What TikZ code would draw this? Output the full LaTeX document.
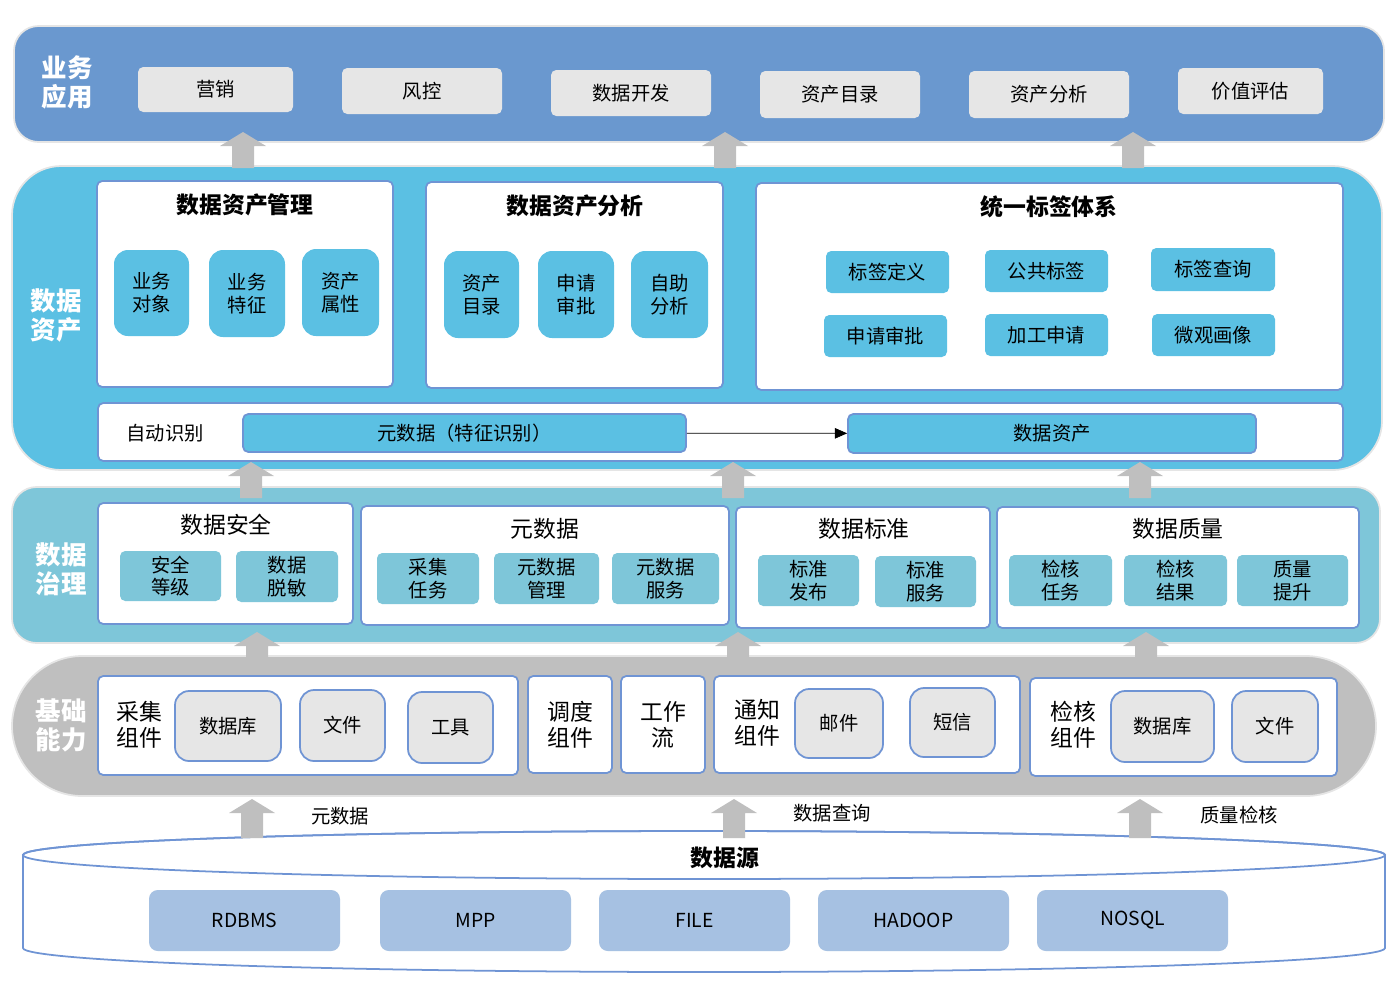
\documentclass[tikz,border=0pt]{standalone}
\usepackage{fontspec}
\setmainfont{Noto Sans CJK SC}
\usetikzlibrary{arrows.meta}
\definecolor{appblue}{HTML}{6A98CF}
\definecolor{assetblue}{HTML}{5BC0E3}
\definecolor{govteal}{HTML}{7EC6D9}
\definecolor{basegrey}{HTML}{BFBFBF}
\definecolor{itemgrey}{HTML}{E6E6E6}
\definecolor{edgeblue}{HTML}{6F94D4}
\definecolor{srcblue}{HTML}{A6C1E2}
\tikzstyle{layer}=[inner sep=0pt, draw=black!10, line width=1pt, rounded corners=14pt]
\tikzstyle{layertitle}=[text=white, font=\bfseries\fontsize{14.5}{16.5}\selectfont, align=center]
\tikzstyle{panel}=[inner sep=0pt, fill=white, draw=edgeblue, line width=1pt, rounded corners=3pt]
\tikzstyle{item}=[inner sep=0pt, rounded corners=3pt, font=\fontsize{11}{13}\selectfont, align=center]
\tikzstyle{gitem}=[item, fill=itemgrey, draw=edgeblue, line width=1pt, rounded corners=8pt]
\tikzstyle{bigtitle}=[font=\bfseries\fontsize{13}{15}\selectfont]
\tikzstyle{midtitle}=[font=\fontsize{13}{15}\selectfont, align=center]
\tikzstyle{uparrow}=[fill=basegrey, draw=none]
% box from corner to corner: [style]{name}{x1}{y1}{x2}{y2}{text}
\newcommand{\bx}[7][]{\node[#1, minimum width={(#5-#3)*0.02cm}, minimum height={(#6-#4)*0.02cm}]
  (#2) at ({(#3+#5)/2},{(#4+#6)/2}) {#7};}
\newcommand{\uparr}[3]{% x, bottom y, top y
  \fill[uparrow] (#1-11,#2) -- (#1-11,#3+14) -- (#1-23,#3+14) -- (#1,#3)
    -- (#1+23,#3+14) -- (#1+11,#3+14) -- (#1+11,#2) -- cycle;}
\begin{document}
\begin{tikzpicture}[x=0.02cm, y=-0.02cm]
    \useasboundingbox (0,0) rectangle (1398,988);

    % business layer
    \bx[layer, fill=appblue]{app}{14}{26}{1384}{142}{}
    \node[layertitle] (apptitle) at (67,82) {业务\\应用};
    \bx[item, fill=itemgrey]{yx}{138}{67}{293}{112}{营销}
    \bx[item, fill=itemgrey]{fk}{342}{68}{502}{114}{风控}
    \bx[item, fill=itemgrey]{sjkf}{551}{70}{711}{116}{数据开发}
    \bx[item, fill=itemgrey]{zcml}{760}{71}{920}{118}{资产目录}
    \bx[item, fill=itemgrey]{zcfx}{969}{71}{1129}{118}{资产分析}
    \bx[item, fill=itemgrey]{jzpg}{1178}{68}{1323}{114}{价值评估}

    % data asset layer
    \bx[layer, fill=assetblue, rounded corners=28pt]{asset}{12}{166}{1382}{470}{}
    \node[layertitle] (assettitle) at (56,315) {数据\\资产};
    \bx[panel]{mgmt}{97}{181}{393}{387}{}
    \node[bigtitle] (mgmttitle) at (245,205) {数据资产管理};
    \bx[item, fill=assetblue, rounded corners=8pt]{ywdx}{114}{250}{189}{336}{业务\\对象}
    \bx[item, fill=assetblue, rounded corners=8pt]{ywtz}{209}{250}{285}{337}{业务\\特征}
    \bx[item, fill=assetblue, rounded corners=8pt]{zcsx}{302}{249}{379}{336}{资产\\属性}
    \bx[panel]{anly}{426}{182}{723}{388}{}
    \node[bigtitle] (anlytitle) at (575,206) {数据资产分析};
    \bx[item, fill=assetblue, rounded corners=8pt]{zcml2}{444}{251}{519}{338}{资产\\目录}
    \bx[item, fill=assetblue, rounded corners=8pt]{sqsp}{538}{251}{614}{338}{申请\\审批}
    \bx[item, fill=assetblue, rounded corners=8pt]{zzfx}{631}{251}{708}{338}{自助\\分析}
    \bx[panel]{tag}{756}{183}{1343}{390}{}
    \node[bigtitle] (tagtitle) at (1049,207) {统一标签体系};
    \bx[item, fill=assetblue]{bqdy}{826}{251}{949}{293}{标签定义}
    \bx[item, fill=assetblue]{ggbq}{985}{250}{1108}{292}{公共标签}
    \bx[item, fill=assetblue]{bqcx}{1151}{248}{1275}{291}{标签查询}
    \bx[item, fill=assetblue]{sqsp2}{824}{315}{947}{357}{申请审批}
    \bx[item, fill=assetblue]{jgsq}{985}{314}{1108}{356}{加工申请}
    \bx[item, fill=assetblue]{wghx}{1152}{314}{1275}{356}{微观画像}
    \bx[panel]{auto}{98}{403}{1343}{461}{}
    \node[item] (autotitle) at (165,433) {自动识别};
    \bx[item, fill=assetblue, draw=edgeblue, line width=1pt]{meta}{243}{414}{686}{452}{元数据（特征识别）}
    \bx[item, fill=assetblue, draw=edgeblue, line width=1pt]{sjzc}{848}{414}{1256}{453}{数据资产}
    \draw[-{Triangle[length=7pt,width=6pt]}, thin] (meta) -- (sjzc);

    % governance layer
    \bx[layer, fill=govteal]{gov}{12}{487}{1380}{643}{}
    \node[layertitle] (govtitle) at (61,569) {数据\\治理};
    \bx[panel]{sec}{98}{503}{353}{624}{}
    \node[midtitle] (sectitle) at (226,525) {数据安全};
    \bx[item, fill=govteal]{aqdj}{120}{551}{221}{601}{安全\\等级}
    \bx[item, fill=govteal]{sjtm}{236}{551}{338}{602}{数据\\脱敏}
    \bx[panel]{md}{361}{506}{729}{625}{}
    \node[midtitle] (mdtitle) at (545,529) {元数据};
    \bx[item, fill=govteal]{cjrw}{377}{553}{479}{604}{采集\\任务}
    \bx[item, fill=govteal]{ysjgl}{494}{553}{599}{604}{元数据\\管理}
    \bx[item, fill=govteal]{ysjfw}{612}{553}{719}{604}{元数据\\服务}
    \bx[panel]{std}{736}{507}{990}{628}{}
    \node[midtitle] (stdtitle) at (864,529) {数据标准};
    \bx[item, fill=govteal]{bzfb}{758}{555}{859}{606}{标准\\发布}
    \bx[item, fill=govteal]{bzfw}{875}{556}{976}{607}{标准\\服务}
    \bx[panel]{qual}{997}{507}{1359}{628}{}
    \node[midtitle] (qualtitle) at (1178,529) {数据质量};
    \bx[item, fill=govteal]{jhrw}{1009}{555}{1112}{606}{检核\\任务}
    \bx[item, fill=govteal]{jhjg}{1124}{555}{1227}{606}{检核\\结果}
    \bx[item, fill=govteal]{zlts}{1237}{555}{1348}{606}{质量\\提升}

    % base layer
    \bx[layer, fill=basegrey, rounded corners=40pt]{base}{12}{656}{1376}{796}{}
    \node[layertitle] (basetitle) at (61,725) {基础\\能力};
    \bx[panel]{collect}{98}{676}{518}{775}{}
    \node[midtitle] (collecttitle) at (139,725) {采集\\组件};
    \bx[gitem]{cjdb}{175}{691}{281}{761}{数据库}
    \bx[gitem]{cjwj}{300}{690}{385}{761}{文件}
    \bx[gitem]{cjgj}{408}{692}{493}{763}{工具}
    \bx[panel, midtitle]{sched}{528}{676}{612}{773}{调度\\组件}
    \bx[panel, midtitle]{flow}{621}{676}{705}{773}{工作\\流}
    \bx[panel]{notify}{714}{676}{1020}{773}{}
    \node[midtitle] (notifytitle) at (757,723) {通知\\组件};
    \bx[gitem]{yj}{795}{689}{883}{758}{邮件}
    \bx[gitem]{dx}{910}{688}{995}{757}{短信}
    \bx[panel]{check}{1030}{678}{1337}{776}{}
    \node[midtitle] (checktitle) at (1073,725) {检核\\组件};
    \bx[gitem]{jhdb}{1111}{691}{1214}{762}{数据库}
    \bx[gitem]{jhwj}{1232}{691}{1318}{762}{文件}

    % labels under base layer
    \node[item] (lmeta) at (340,816) {元数据};
    \node[item] (lquery) at (832,813) {数据查询};
    \node[item] (lcheck) at (1239,815) {质量检核};

    % data source cylinder
    \draw[draw=edgeblue, fill=white, line width=1pt] (23,855) -- (23,948)
      arc[start angle=180, end angle=0, x radius=681, y radius=24] -- (1385,855)
      arc[start angle=0, end angle=-180, x radius=681, y radius=24] -- cycle;
    \draw[draw=edgeblue, line width=1pt] (704,855) ellipse[x radius=681, y radius=24];
    \node[bigtitle] (srctitle) at (725,858) {数据源};
    \bx[item, fill=srcblue, rounded corners=5pt]{rdbms}{149}{890}{340}{951}{RDBMS}
    \bx[item, fill=srcblue, rounded corners=5pt]{mpp}{380}{890}{571}{951}{MPP}
    \bx[item, fill=srcblue, rounded corners=5pt]{file}{599}{890}{790}{951}{FILE}
    \bx[item, fill=srcblue, rounded corners=5pt]{hadoop}{818}{890}{1009}{951}{HADOOP}
    \bx[item, fill=srcblue, rounded corners=5pt]{nosql}{1037}{890}{1228}{951}{NOSQL}

    % arrows between layers
    \uparr{243}{168}{132} \uparr{725}{168}{132} \uparr{1133}{168}{132}
    \uparr{251}{498}{462} \uparr{733}{498}{462} \uparr{1140}{498}{462}
    \uparr{257}{670}{632} \uparr{738}{670}{632} \uparr{1146}{670}{632}
    \uparr{252}{838}{799} \uparr{734}{838}{799} \uparr{1140}{838}{799}
\end{tikzpicture}
\end{document}
